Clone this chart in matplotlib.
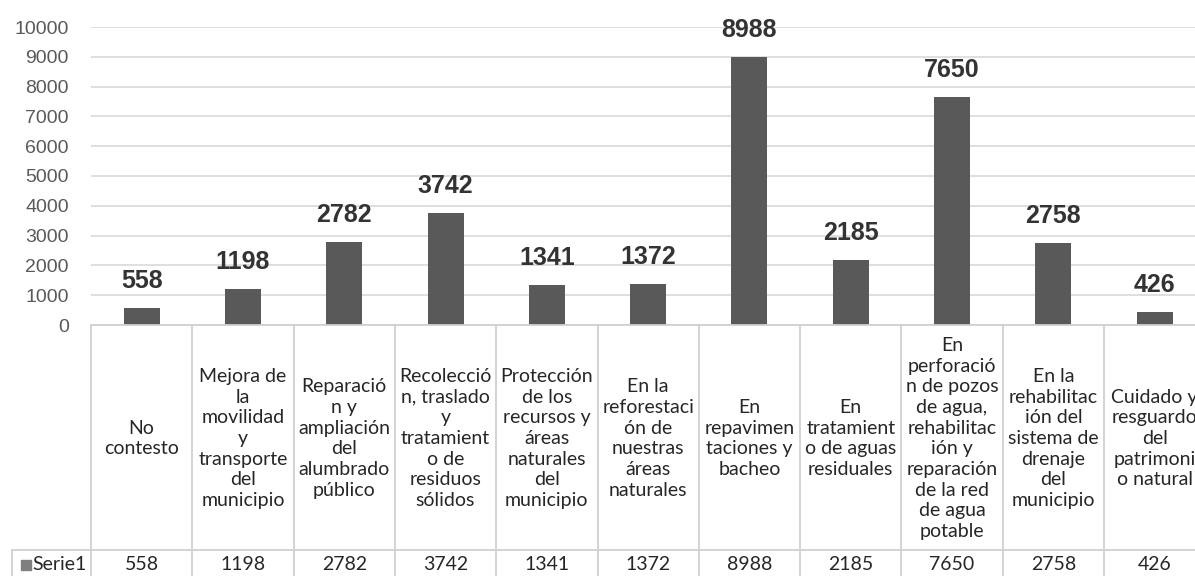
import numpy as np
import matplotlib
matplotlib.use("Agg")
import matplotlib.pyplot as plt

categories = [
    "No\ncontesto",
    "Mejora de\nla\nmovilidad\ny\ntransporte\ndel\nmunicipio",
    "Reparació\nn y\nampliación\ndel\nalumbrado\npúblico",
    "Recolecció\nn, traslado\ny\ntratamient\no de\nresiduos\nsólidos",
    "Protección\nde los\nrecursos y\náreas\nnaturales\ndel\nmunicipio",
    "En la\nreforestaci\nón de\nnuestras\náreas\nnaturales",
    "En\nrepavimen\ntaciones y\nbacheo",
    "En\ntratamient\no de aguas\nresiduales",
    "En\nperforació\nn de pozos\nde agua,\nrehabilitac\nión y\nreparación\nde la red\nde agua\npotable",
    "En la\nrehabilitac\nión del\nsistema de\ndrenaje\ndel\nmunicipio",
    "Cuidado y\nresguardo\ndel\npatrimoni\no natural",
]
values = [558, 1198, 2782, 3742, 1341, 1372, 8988, 2185, 7650, 2758, 426]
series_name = "Serie1"
yticks = np.arange(0, 10001, 1000)

W, H = 1195, 576
fig = plt.figure(figsize=(W / 100, H / 100), dpi=100)

bar_col = "#595959"
grid_col = "#d9d9d9"

# plot area (pixel geometry)
x0, col_w = 91, 101.3
y_zero, y_top = 325, 27
n = len(values)
ax = fig.add_axes([x0 / W, (H - y_zero) / H, n * col_w / W, (y_zero - y_top) / H])
x = np.arange(n)
ax.bar(x, values, width=0.355, color=bar_col, zorder=3)
ax.set_xlim(-0.5, n - 0.5)
ax.set_ylim(0, 10000)
ax.set_yticks(yticks)
ax.set_yticklabels([str(v) for v in yticks], fontsize=14, color="#595959",
                   family="Liberation Sans")
ax.tick_params(axis="y", length=0, pad=16)
ax.set_xticks([])
ax.grid(axis="y", color=grid_col, lw=1.2, zorder=0)
for s in ax.spines.values():
    s.set_visible(False)
for xi, v in zip(x, values):
    ax.annotate(str(v), (xi, v), xytext=(0, 11), textcoords="offset points",
                ha="center", va="bottom", fontsize=18, fontweight="bold",
                color="#333333", family="Liberation Sans")

# data table below
left_px = 12
tab = fig.add_axes([left_px / W, 0, (x0 + n * col_w - left_px) / W, (H - y_zero) / H])
xl = -0.5 - (x0 - left_px) / col_w
tab.set_xlim(xl, n - 0.5)
tab.set_ylim(H - y_zero, 0)
tab.axis("off")
hdr_h = 225
line_kw = dict(color="#d0d0d0", lw=1.3, clip_on=False)
tab.plot([-0.5, n - 0.5], [0, 0], **line_kw)
tab.plot([xl, n - 0.5], [hdr_h, hdr_h], **line_kw)
tab.plot([xl, xl], [hdr_h, H - y_zero], **line_kw)
for k in range(n + 1):
    tab.plot([k - 0.5, k - 0.5], [0, H - y_zero], **line_kw)
for i, (c, v) in enumerate(zip(categories, values)):
    tab.text(i, hdr_h / 2 + 1, c, ha="center", va="center", fontsize=14,
             color="#262626", family="Lato", linespacing=1.26)
    tab.text(i, 240, str(v), ha="center", va="center", fontsize=14,
             color="#262626", family="Lato")
tab.plot([xl + 0.14], [240], marker="s", ms=7.5, color="#7f7f7f", clip_on=False)
tab.text(xl + 0.2, 240, series_name, ha="left", va="center", fontsize=14,
         color="#262626", family="Lato")

fig.savefig("out.png", dpi=100)
